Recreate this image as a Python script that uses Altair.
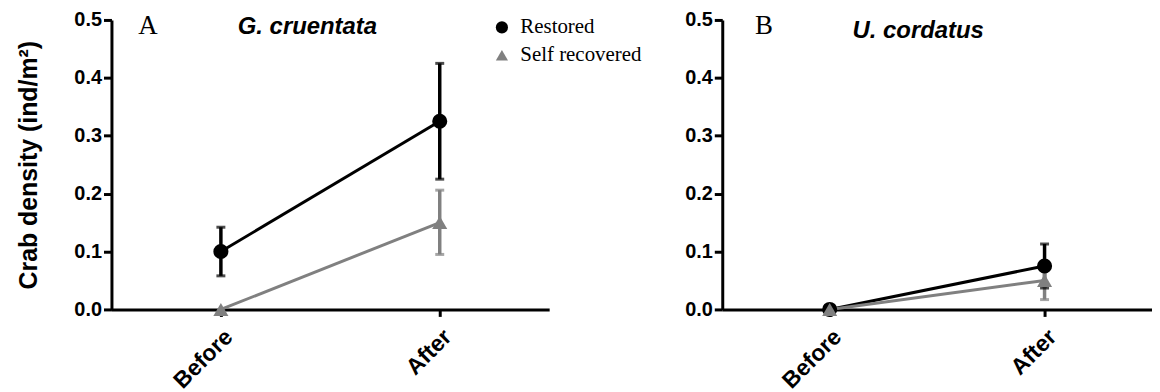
import altair as alt
import pandas as pd

periods = ["Before", "After"]
groups = ["Restored", "Self recovered"]
species = ["G. cruentata", "U. cordatus"]
letters = ["A", "B"]

# means and error bounds per panel, group, period
a_restored_mean = [0.100, 0.325]
a_restored_lo = [0.058, 0.225]
a_restored_hi = [0.142, 0.425]
a_self_mean = [0.000, 0.150]
a_self_lo = [0.000, 0.095]
a_self_hi = [0.000, 0.206]

b_restored_mean = [0.000, 0.075]
b_restored_lo = [0.000, 0.037]
b_restored_hi = [0.000, 0.113]
b_self_mean = [0.000, 0.050]
b_self_lo = [0.000, 0.017]
b_self_hi = [0.000, 0.083]

rows = []
panel_data = {
    "A": [(groups[0], a_restored_mean, a_restored_lo, a_restored_hi),
          (groups[1], a_self_mean, a_self_lo, a_self_hi)],
    "B": [(groups[0], b_restored_mean, b_restored_lo, b_restored_hi),
          (groups[1], b_self_mean, b_self_lo, b_self_hi)],
}
for p, series in panel_data.items():
    for g, m, lo, hi in series:
        for i, per in enumerate(periods):
            rows.append(dict(panel=p, group=g, period=per, mean=m[i], lo=lo[i], hi=hi[i]))
df = pd.DataFrame(rows)

color_scale = alt.Scale(domain=groups, range=["#000000", "#808080"])
shape_scale = alt.Scale(domain=groups, range=["circle", "triangle-up"])


def panel(letter, name, width, show_title, letter_x, name_x, name_y):
    d = df[df.panel == letter]
    x = alt.X("period:N", sort=periods, scale=alt.Scale(type="point", padding=0.5),
              axis=alt.Axis(title=None, labelAngle=-45, labelFont="Liberation Sans",
                            labelFontWeight="bold", labelFontSize=23, labelColor="black",
                            domainColor="black", domainWidth=3, tickColor="black",
                            tickWidth=3, tickSize=7, labelPadding=9))
    yaxis = alt.Axis(values=[0, 0.1, 0.2, 0.3, 0.4, 0.5], format=".1f",
                     title="Crab density (ind/m²)" if show_title else None,
                     titleFont="Liberation Sans", titleFontWeight="bold",
                     titleFontSize=25, titleColor="black", titlePadding=33,
                     labelFont="Liberation Sans", labelFontWeight="bold",
                     labelFontSize=20, labelColor="black", labelPadding=2,
                     domainColor="black", domainWidth=3, tickColor="black",
                     tickWidth=3, tickSize=8, grid=False)
    y = alt.Y("mean:Q", scale=alt.Scale(domain=[0, 0.5], nice=False), axis=yaxis)
    color = alt.Color("group:N", scale=color_scale, sort=groups,
                      legend=alt.Legend(title=None, orient="none", legendX=382, legendY=-3,
                                        labelFont="Liberation Serif", labelFontSize=21,
                                        labelColor="black", symbolSize=150,
                                        symbolOpacity=1, symbolStrokeWidth=0,
                                        rowPadding=6, labelOffset=8))
    shape = alt.Shape("group:N", scale=shape_scale, sort=groups)
    base = alt.Chart(d)
    line = base.mark_line(strokeWidth=3).encode(x=x, y=y, color=color, detail="group:N")
    ed = d[d.hi > d.lo]
    eb = alt.Chart(ed)
    rule = eb.mark_rule(strokeWidth=3.5).encode(x=x, y="lo:Q", y2="hi:Q", color=color)
    cap_lo = eb.mark_tick(thickness=3, size=9).encode(x=x, y="lo:Q", color=color)
    cap_hi = eb.mark_tick(thickness=3, size=9).encode(x=x, y="hi:Q", color=color)
    pts = base.mark_point(filled=True, size=230, opacity=1).encode(
        x=x, y=y, color=color, shape=shape)
    lab = alt.Chart(pd.DataFrame({"t": [letter]})).mark_text(
        font="Liberation Serif", fontSize=27, align="left", baseline="alphabetic",
        color="black").encode(text="t:N", x=alt.value(letter_x), y=alt.value(14))
    ttl = alt.Chart(pd.DataFrame({"t": [name]})).mark_text(
        font="Liberation Sans", fontSize=24, fontWeight="bold", fontStyle="italic",
        align="left", baseline="alphabetic", color="black").encode(
        text="t:N", x=alt.value(name_x), y=alt.value(name_y))
    return alt.layer(line, rule, cap_lo, cap_hi, pts, lab, ttl).properties(
        width=width, height=291)


chart = alt.hconcat(
    panel("A", species[0], 440, True, 27, 127, 14),
    panel("B", species[1], 432, False, 33, 131, 18),
    spacing=136,
).properties(
    padding={"left": 8, "top": 1, "right": 0, "bottom": 0},
    background="white",
).configure_view(strokeWidth=0, stroke=None)

chart.save("out.html", embed_options={"renderer": "svg", "actions": False})
